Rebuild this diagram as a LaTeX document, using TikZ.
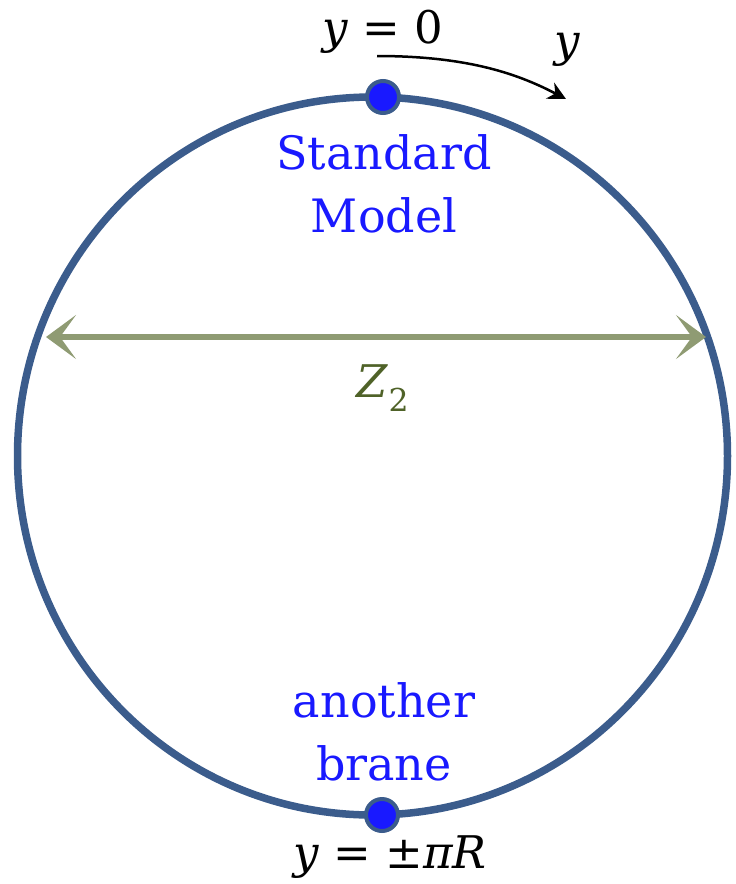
\documentclass[tikz,border=0pt]{standalone}
\usepackage{fontspec}
\setmainfont{DejaVu Serif}
\usetikzlibrary{arrows.meta}
\definecolor{ringblue}{RGB}{59,92,140}
\definecolor{dotblue}{RGB}{25,25,255}
\definecolor{zarrow}{RGB}{143,155,115}
\definecolor{ztext}{RGB}{79,98,40}
\tikzset{
  ring/.style={draw=ringblue, line width=7.5pt},
  brane/.style={circle, draw=ringblue, fill=dotblue, line width=4pt, minimum size=32pt, inner sep=0pt},
  bluelabel/.style={text=dotblue, font=\fontsize{46}{63}\selectfont, align=center, inner sep=0pt},
  mathlabel/.style={font=\fontsize{45}{50}\selectfont, inner sep=0pt},
  zaxis/.style={draw=zarrow, line width=5.5pt, {Stealth[length=30pt,width=44pt,inset=16pt]}-{Stealth[length=30pt,width=44pt,inset=16pt]}},
  yarrow/.style={draw=black, line width=2.5pt, -{Stealth[length=18pt,width=18pt,inset=6pt]}}
}
\begin{document}
\begin{tikzpicture}[x=1pt,y=1pt]
\useasboundingbox (0,0) rectangle (736,-884);
\draw[ring] (372.5,-456) ellipse [x radius=355, y radius=359];
\node[brane] (top) at (383,-97) {};
\node[brane] (bot) at (382,-815) {};
\node[mathlabel] (y0) at (383,-32) {\textit{y} = 0};
\node[mathlabel] (ylab) at (567,-50) {\textit{y}};
\coordinate (ys) at (377,-56);
\coordinate (ye) at (566,-99);
\draw[yarrow] (ys) .. controls (470,-56) and (520,-75) .. (ye);
\node[bluelabel] (sm) at (384,-184) {Standard\\Model};
\coordinate (zl) at (46,-337);
\coordinate (zr) at (706,-337);
\draw[zaxis] (zl) -- (zr);
\node[mathlabel, text=ztext] (z2) at (383,-388) {\textit{Z}\textsubscript{2}};
\node[bluelabel] (ab) at (384,-732) {another\\brane};
\node[mathlabel] (ypi) at (390,-857) {\textit{y} = ±\textit{πR}};
\end{tikzpicture}
\end{document}
